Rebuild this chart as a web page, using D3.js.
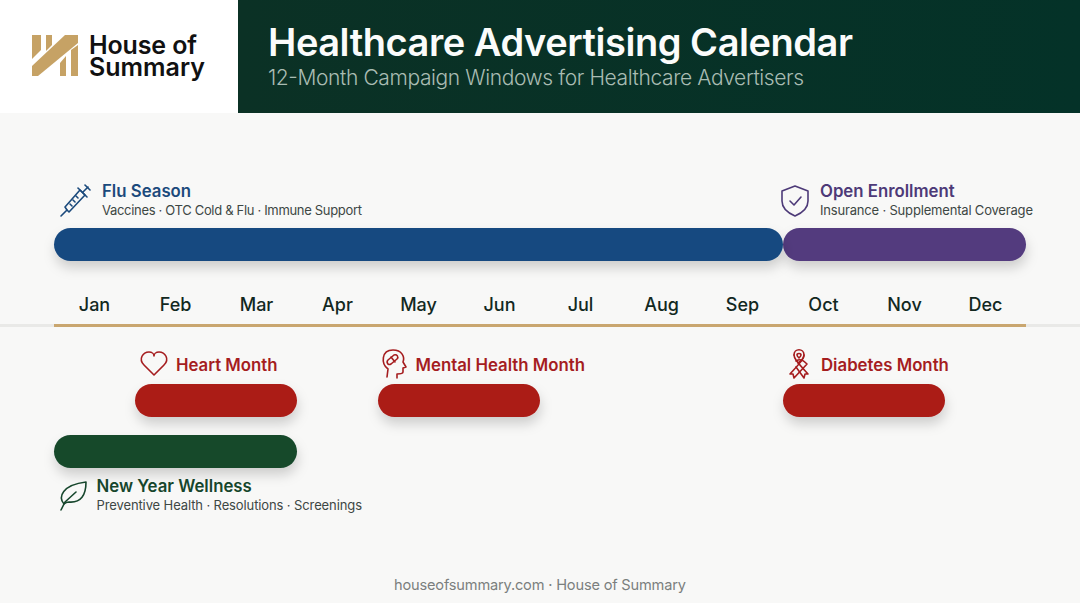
<!DOCTYPE html>
<html><head><meta charset="utf-8">
<script src="https://cdn.jsdelivr.net/npm/d3@7/dist/d3.min.js"></script>
<style>
html,body{margin:0;padding:0;background:#f8f8f7;overflow:hidden}
text{font-family:Inter,"Noto Sans",sans-serif}
</style></head><body>
<svg id="c" width="1080" height="603"></svg>
<script>
const months=["Jan","Feb","Mar","Apr","May","Jun","Jul","Aug","Sep","Oct","Nov","Dec"];
const campaigns=["Flu Season","Open Enrollment","Heart Month","Mental Health Month","Diabetes Month","New Year Wellness"];
const startMonth=[0,9,1,4,9,0];
const endMonth=[9,12,3,6,11,3];
const details=["Vaccines · OTC Cold & Flu · Immune Support","Insurance · Supplemental Coverage","","","","Preventive Health · Resolutions · Screenings"];

// layout and style (separate from data)
const barColor=["#174a80","#533a7e","#ab1c17","#ab1c17","#ab1c17","#15482c"];
const textColor=["#1b4a7c","#4d3a78","#a51d1f","#a51d1f","#a51d1f","#16462c"];
const barY=[228,228,384,384,384,435];
const labelX=[102,820,176,415.5,821,96.5];
const labelY=[197,197,371,371,371,491.5];
const iconX=[76,795,154,394,799,73];
const iconY=[200,200,364,364,364,494];
const detailW=[260,213,0,0,0,265.5];
const barH=33;

const svg=d3.select("#c");
const x=d3.scaleLinear().domain([0,12]).range([54,1026]);
const defs=svg.append("defs");
const f=defs.append("filter").attr("id","sh").attr("x","-10%").attr("y","-60%").attr("width","120%").attr("height","260%");
f.append("feDropShadow").attr("dx",1).attr("dy",7).attr("stdDeviation",6).attr("flood-color","#000").attr("flood-opacity",0.17);
const gr=defs.append("linearGradient").attr("id","hd").attr("x1",0).attr("x2",1).attr("y1",0).attr("y2",0);
gr.append("stop").attr("offset",0).attr("stop-color","#0b3125");
gr.append("stop").attr("offset",1).attr("stop-color","#043228");

svg.append("rect").attr("width",1080).attr("height",603).attr("fill","#f8f8f7");
svg.append("rect").attr("width",238).attr("height",113).attr("fill","#fff");
svg.append("rect").attr("x",238).attr("width",842).attr("height",113).attr("fill","url(#hd)");

// logo
const gold="#c6a265";
const logo=svg.append("g").attr("fill",gold);
[[[32,35],[41,35],[41,50],[32,59]],
 [[46,35],[52,35],[52,45],[46,51]],
 [[65,35],[78,35],[78,43],[38,76],[32,76],[32,66]],
 [[60,63],[66,56],[66,76],[60,76]],
 [[71,50],[78,45],[78,76],[71,76]]].forEach(p=>logo.append("polygon").attr("points",p.join(" ")));
svg.append("text").attr("x",89).attr("y",54).attr("font-size",25).attr("font-weight",600).attr("fill","#111").attr("textLength",108).text("House of");
svg.append("text").attr("x",89).attr("y",76).attr("font-size",25).attr("font-weight",600).attr("fill","#111").attr("textLength",116).text("Summary");

svg.append("text").attr("x",268).attr("y",56).attr("font-size",38).attr("font-weight",600).attr("fill","#fbfcfb").attr("textLength",585).text("Healthcare Advertising Calendar");
svg.append("text").attr("x",268).attr("y",85).attr("font-size",21).attr("font-weight",300).attr("fill","#a9bcb3").attr("textLength",536).text("12-Month Campaign Windows for Healthcare Advertisers");

// axis baseline
svg.append("rect").attr("x",0).attr("y",324).attr("width",1080).attr("height",3).attr("fill","#e9e9e7");
const axis=d3.axisTop(d3.scaleBand().domain(months).range(x.range())).tickSize(0).tickPadding(0);
const ax=svg.append("g").attr("transform","translate(0,311)").call(axis);
ax.select(".domain").remove();
ax.selectAll("text").attr("font-size",18).attr("font-weight",500).attr("fill","#12281f").attr("font-family","Inter").attr("dy",0);
svg.append("rect").attr("x",x(0)).attr("y",324).attr("width",x(12)-x(0)).attr("height",3).attr("fill","#c9a66f");

// bars
const idx=d3.range(campaigns.length);
const order=[1,0,2,3,4,5];
svg.append("g").selectAll("rect").data(order).join("rect")
 .attr("x",i=>x(startMonth[i])).attr("y",i=>barY[i])
 .attr("width",i=>x(endMonth[i])-x(startMonth[i])).attr("height",barH).attr("rx",16.5)
 .attr("fill",i=>barColor[i]).attr("filter","url(#sh)");

// labels
svg.append("g").selectAll("text").data(idx).join("text")
 .attr("x",i=>labelX[i]).attr("y",i=>labelY[i]).attr("font-size",16.8).attr("font-weight",600)
 .attr("fill",i=>textColor[i]).text(i=>campaigns[i]);
svg.append("g").selectAll("text").data(idx.filter(i=>details[i])).join("text")
 .attr("x",i=>labelX[i]).attr("y",i=>labelY[i]+18).attr("font-size",13).attr("font-weight",400)
 .attr("textLength",i=>detailW[i]).attr("fill","#3d4744").text(i=>details[i]);

// icons
function icon(i,paths){
 const g=svg.append("g").attr("transform",`translate(${iconX[i]},${iconY[i]})`)
  .attr("fill","none").attr("stroke",textColor[i]).attr("stroke-width",1.6).attr("stroke-linejoin","round").attr("stroke-linecap","round");
 paths.forEach(d=>g.append("path").attr("d",d));
}
icon(0,["M-15,16 L-9,10","M-9,10 L-11,7 L4,-10 L9,-5 L-7,12 Z","M2,-12 L11,-3","M7,-8 L12,-13","M9,-15 L14,-10","M-6,4 L-4,6","M-3,0 L-1,2","M0,-4 L2,-2"]);
icon(1,["M0,-14 L13,-9 L13,1 C13,8 7,13 0,16 C-7,13 -13,8 -13,1 L-13,-9 Z","M-5,1 L-1,5 L6,-3"]);
icon(2,["M0,11 L-10,1 C-16,-5 -11,-12 -5,-12 C-2,-12 0,-10 0,-8 C0,-10 2,-12 5,-12 C11,-12 16,-5 10,1 Z"]);
icon(3,["M-7,13 L-6,5 C-13,0 -13,-14 -1,-14 C8,-14 11,-7 9,-2 L12,3 L9,4 L9,8 C9,10 6,10 3,10 L3,14","M-6,-4 L0,-9 C3,-10 5,-7 3,-5 L-3,0 C-6,2 -8,-2 -6,-4 Z","M-3,-7 L1,-2"]);
icon(4,["M-5,-9 C-5,-16 5,-16 5,-9 C5,-5 1,-1 -9,10 L-6,10 L-5,14 L8,0 C5,-3 2,-6 -3,-3","M5,-9 C5,-5 -1,-1 -1,-1","M-5,-9 C-5,-6 -3,-3 9,10 L6,10 L5,14 L-3,3","M-2,-9 C-2,-11 2,-11 2,-9 C2,-8 1,-7 0,-6 C-1,-7 -2,-8 -2,-9 Z"]);
icon(5,["M-9,10 C-15,3 -11,-9 13,-12 C13,1 8,9 -4,8 C-7,8 -8,9 -9,10","M-12,16 L-8,8 L3,-2"]);

svg.append("text").attr("x",540).attr("y",590).attr("text-anchor","middle").attr("font-size",14.6).attr("fill","#7b7f7e").attr("textLength",292).text("houseofsummary.com · House of Summary");
</script>
</body></html>
